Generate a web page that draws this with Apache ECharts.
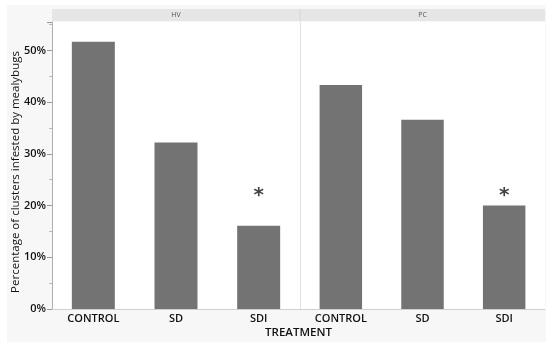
<!DOCTYPE html>
<html><head><meta charset="utf-8">
<script src="https://cdn.jsdelivr.net/npm/echarts@6/dist/echarts.min.js"></script>
<style>html,body{margin:0;padding:0;background:#fff}#c{width:550px;height:347px}</style>
</head><body><div id="c"></div>
<script>
const categories = ['CONTROL', 'SD', 'SDI'];
const panels = ['HV', 'PC'];
const hvValues = [51.7, 32.2, 16.1];
const pcValues = [43.3, 36.6, 20.0];
const starCategory = 'SDI';
const starLevel = 22.6;
const yTicks = [0, 10, 20, 30, 40, 50];

const FONT = '"Open Sans", "Noto Sans", sans-serif';
const chart = echarts.init(document.getElementById('c'), null, {renderer: 'canvas'});
const gTop = 22, gBottom = 38;
const L = 52, M = 300, R = 545;
function yAxis(idx, first) {
  return {
    type: 'value', gridIndex: idx, min: 0, max: 55.5, interval: 10,
    axisLine: {show: true, lineStyle: {color: first ? '#b0b0b0' : '#e2e2e2', width: 1}},
    axisTick: {show: first, length: 5, lineStyle: {color: '#999'}},
    minorTick: {show: first, splitNumber: 2, length: 3, lineStyle: {color: '#bbb'}},
    splitLine: {show: false},
    axisLabel: {show: first, showMaxLabel: false, formatter: '{value}%', color: '#111', fontSize: 11, fontWeight: 600, fontFamily: FONT, margin: 6}
  };
}
function xAxis(idx) {
  return {
    type: 'category', gridIndex: idx, data: categories,
    axisLine: {show: true, lineStyle: {color: '#cfcfcf'}},
    axisTick: {show: false},
    axisLabel: {color: '#111', fontSize: 11, fontWeight: 600, fontFamily: FONT, margin: 4}
  };
}
const gridBase = {top: gTop, bottom: gBottom, show: true, backgroundColor: '#fff', borderWidth: 0};
const starLabel = {show: true, position: 'inside', formatter: '*', fontSize: 20, fontWeight: 'bold', color: '#111', fontFamily: '"DejaVu Sans", sans-serif', offset: [0, 4]};
const option = {
  animation: false,
  backgroundColor: '#fff',
  graphic: [
    {type: 'rect', z: -10, shape: {x: 7, y: 5, width: 539, height: 337}, style: {fill: '#f7f7f7'}},
    {type: 'rect', shape: {x: L, y: 9, width: R - L, height: 12}, style: {fill: '#e6e6e6'}},
    {type: 'line', shape: {x1: M, y1: 9, x2: M, y2: 21}, style: {stroke: '#d6d6d6', lineWidth: 1}},
    {type: 'text', x: (L + M) / 2, y: 15, style: {text: panels[0], fontSize: 7, fill: '#555', fontFamily: FONT, align: 'center', verticalAlign: 'middle'}},
    {type: 'text', x: (M + R) / 2, y: 15, style: {text: panels[1], fontSize: 7, fill: '#555', fontFamily: FONT, align: 'center', verticalAlign: 'middle'}},
    {type: 'text', x: (L + R) / 2, y: 333, style: {text: 'TREATMENT', fontSize: 11.5, fontWeight: 600, fill: '#111', fontFamily: FONT, align: 'center', verticalAlign: 'middle'}},
    {type: 'text', x: 16, y: 172, rotation: Math.PI / 2, style: {text: 'Percentage of clusters infested by mealybugs', fontSize: 11.5, fill: '#111', fontFamily: FONT, align: 'center', verticalAlign: 'middle'}}
  ],
  grid: [
    Object.assign({left: L, width: M - L}, gridBase),
    Object.assign({left: M, width: R - M}, gridBase)
  ],
  xAxis: [xAxis(0), xAxis(1)],
  yAxis: [yAxis(0, true), yAxis(1, false)],
  series: [
    {type: 'bar', xAxisIndex: 0, yAxisIndex: 0, data: hvValues, barWidth: '52%', itemStyle: {color: '#737373'}},
    {type: 'bar', xAxisIndex: 1, yAxisIndex: 1, data: pcValues, barWidth: '52%', itemStyle: {color: '#737373'}},
    {type: 'scatter', xAxisIndex: 0, yAxisIndex: 0, symbolSize: 0, data: [[starCategory, starLevel]], label: starLabel},
    {type: 'scatter', xAxisIndex: 1, yAxisIndex: 1, symbolSize: 0, data: [[starCategory, starLevel]], label: starLabel}
  ]
};
chart.setOption(option);
</script></body></html>
